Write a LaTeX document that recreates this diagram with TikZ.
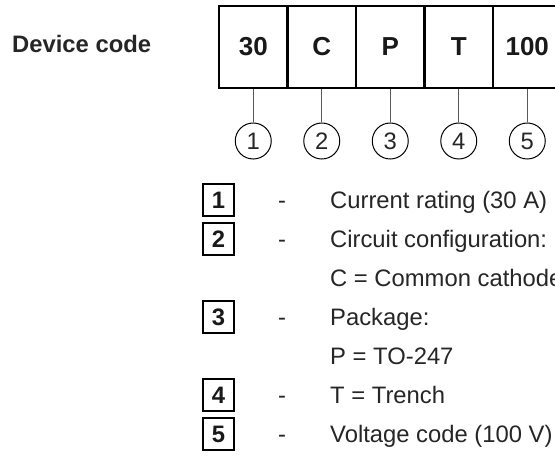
\documentclass[tikz,border=0pt]{standalone}
\usepackage{fontspec}
\setmainfont{Liberation Sans}
\begin{document}
\begin{tikzpicture}[x=1bp,y=-1bp,
  txt/.style={inner sep=0pt, text=black!85, font=\fontsize{23.8bp}{28bp}\selectfont},
  codebox/.style={draw, line width=2.5bp, minimum width=68.5bp, minimum height=82bp, inner sep=0pt, text=black!90, font=\fontsize{26bp}{30bp}\selectfont\bfseries},
  numcirc/.style={circle, draw, line width=1bp, minimum size=36bp, inner sep=0pt, text=black!85, font=\fontsize{23.8bp}{28bp}\selectfont},
  conn/.style={draw=black!65, line width=1.2bp},
  numbox/.style={draw, line width=2bp, minimum width=31bp, minimum height=32bp, inner sep=0pt, text=black!90, font=\fontsize{23.8bp}{28bp}\selectfont\bfseries},
  dashtxt/.style={txt, anchor=base},
  desc/.style={txt, anchor=base west}]
\useasboundingbox (0,0) rectangle (555,464);
\fill[white] (0,0) rectangle (555,464);

\node[txt, anchor=west, font=\fontsize{23.8bp}{28bp}\selectfont\bfseries] (title) at (12,44) {Device code};

\node[codebox] (c1) at (253.25,47) {30};
\node[codebox] (c2) at (321.75,47) {C};
\node[codebox] (c3) at (390.25,47) {P};
\node[codebox] (c4) at (458.75,47) {T};
\node[codebox] (c5) at (527.25,47) {100};

\node[numcirc] (n1) at (253.25,141) {1};
\node[numcirc] (n2) at (321.75,141) {2};
\node[numcirc] (n3) at (390.25,141) {3};
\node[numcirc] (n4) at (458.75,141) {4};
\node[numcirc] (n5) at (527.25,141) {5};

\foreach \i in {1,...,5} \draw[conn] (c\i.south) -- (n\i.north);

% legend (baselines 8.5 below row centres)
\node[numbox] (b1) at (218.5,200) {1};
\node[dashtxt] (d1) at (282,208.5) {-};
\node[desc] (t1) at (330,208.5) {Current rating (30 A)};

\node[numbox] (b2) at (218.5,239) {2};
\node[dashtxt] (d2) at (282,247.5) {-};
\node[desc] (t2) at (330,247.5) {Circuit configuration:};
\node[desc] (t2b) at (330,286.5) {C = Common cathode};

\node[numbox] (b3) at (218.5,317) {3};
\node[dashtxt] (d3) at (282,325.5) {-};
\node[desc] (t3) at (330,325.5) {Package:};
\node[desc] (t3b) at (330,364.5) {P = TO-247};

\node[numbox] (b4) at (218.5,395) {4};
\node[dashtxt] (d4) at (282,403.5) {-};
\node[desc] (t4) at (330,403.5) {T = Trench};

\node[numbox] (b5) at (218.5,434) {5};
\node[dashtxt] (d5) at (282,442.5) {-};
\node[desc] (t5) at (330,442.5) {Voltage code (100 V)};
\end{tikzpicture}
\end{document}
